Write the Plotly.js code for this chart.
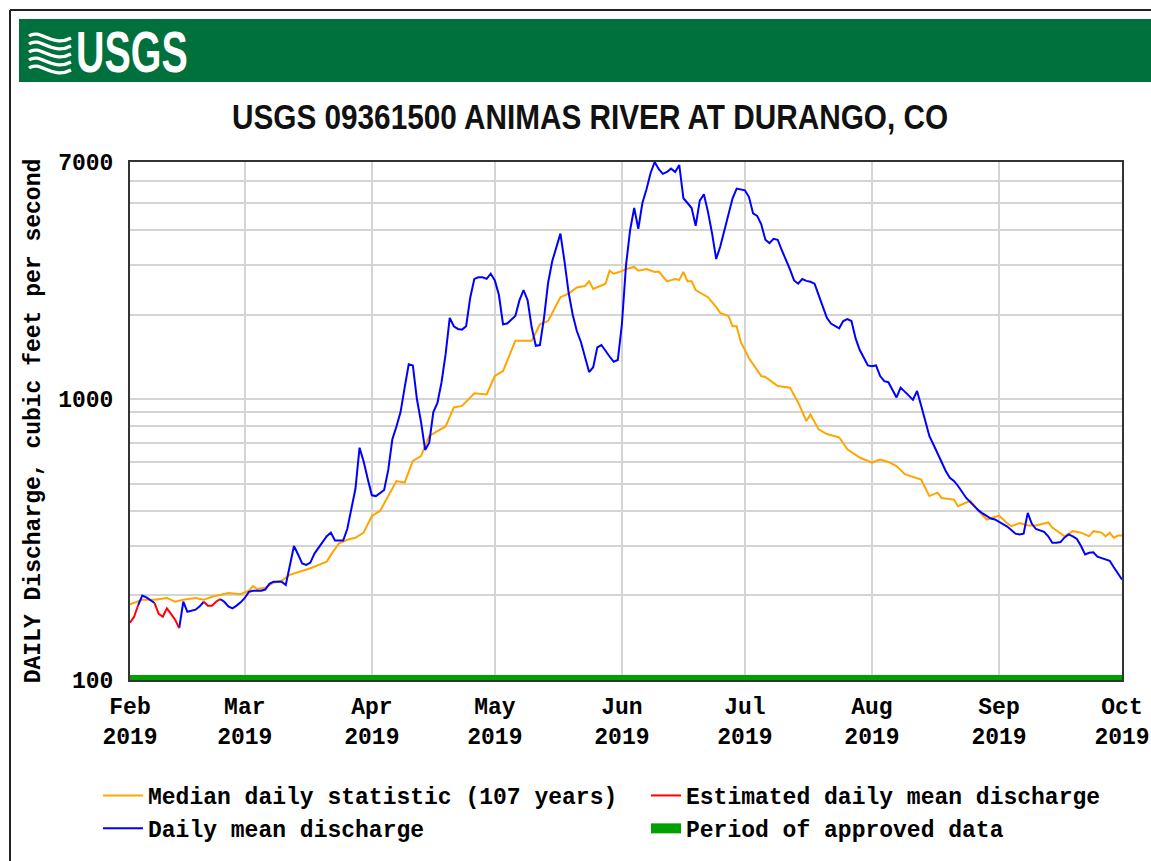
<!DOCTYPE html>
<html><head><meta charset="utf-8">
<script src="https://cdn.plot.ly/plotly-3.0.1.min.js"></script>
<style>html,body{margin:0;padding:0;background:#fff}#chart{width:1151px;height:861px}</style>
</head><body><div id="chart"></div>
<script>
// ---- Daily mean discharge (cfs), one value per day; null = estimated day
const dailyFeb = [null,null,185,200,197,193,188,null,null,null,null,null,153,190,175,176,178,183,190,null,null,null,194,190,183,180,184,189];
const dailyMar = [196,206,208,208,208,210,220,224,224,224,218,255,300,280,260,257,262,282,296,310,325,335,314,314,314,345,410,480,672,600,520];
const dailyApr = [455,452,465,475,560,720,800,900,1100,1333,1320,1000,830,660,700,900,970,1150,1450,1950,1820,1780,1770,1820,2300,2684,2720,2720,2684,2800];
const dailyMay = [2650,2350,1850,1860,1920,1980,2250,2450,2250,1800,1550,1560,1950,2600,3100,3450,3890,3100,2400,2000,1750,1600,1420,1250,1300,1530,1560,1480,1420,1360,1380];
const dailyJun = [1850,3000,4000,4800,4050,5000,5600,6400,7000,6600,6350,6450,6630,6450,6830,5200,5000,4800,4150,5100,5370,4650,3900,3160,3500,4000,4500,5200,5630,5580];
const dailyJul = [5550,5250,4590,4500,4200,3700,3600,3730,3700,3400,3150,2900,2650,2580,2680,2640,2620,2580,2350,2150,1950,1860,1820,1790,1900,1930,1900,1650,1500,1400,1320];
const dailyAug = [1310,1320,1210,1160,1150,1080,1015,1100,1060,1030,995,1070,950,830,740,690,640,600,555,525,512,491,465,445,430,415,402,392,383,376,373];
const dailySep = [366,358,352,342,332,330,332,394,360,345,342,337,325,308,308,310,322,330,325,318,300,280,284,285,275,272,270,266,252,240];
const dailyOct = [228];

// ---- Estimated daily mean discharge (February only)
const estimatedFeb = [160,168,185,null,null,null,188,172,168,180,172,164,153,null,null,null,null,null,190,184,184,190,194,null,null,null,null,null];

// ---- Median daily statistic (107 years)
const medianDates = ['02-01','02-04','02-07','02-10','02-12','02-14','02-17','02-19','02-21','02-25','02-28',
 '03-02','03-03','03-04','03-06','03-08','03-10','03-12','03-17','03-21','03-22','03-24','03-26','03-28','03-30',
 '04-01','04-03','04-05','04-07','04-09','04-11','04-13','04-15','04-17','04-19','04-21','04-23','04-26','04-29',
 '05-01','05-03','05-06','05-10','05-12','05-14','05-17','05-19','05-21','05-23','05-24','05-25','05-28','05-29','05-30',
 '06-01','06-02','06-04','06-05','06-07','06-09','06-10','06-12','06-14','06-15','06-16','06-17','06-18','06-19','06-22','06-24','06-25','06-27','06-28','06-29','06-30',
 '07-02','07-05','07-06','07-09','07-12','07-14','07-16','07-17','07-19','07-21','07-24','07-26','07-29',
 '08-01','08-03','08-05','08-07','08-09','08-13','08-15','08-17','08-18','08-21','08-22','08-25','08-27','08-29',
 '09-01','09-03','09-04','09-06','09-08','09-10','09-13','09-14','09-17','09-19','09-21','09-23','09-24','09-26','09-27','09-28','09-29','09-30','10-01'];
const medianValues = [186,193,193,196,190,193,196,193,198,204,202,
 208,216,211,213,222,226,237,250,264,279,307,316,321,335,
 384,400,452,511,505,603,627,740,770,800,935,947,1050,1040,
 1210,1260,1615,1615,1850,1900,2310,2380,2500,2530,2630,2470,2580,2870,2800,
 2860,2910,2960,2870,2910,2840,2850,2630,2680,2660,2840,2630,2630,2450,2310,2130,2030,1980,1820,1820,1600,
 1400,1210,1200,1115,1100,974,836,883,781,752,732,663,620,
 595,610,598,578,541,518,452,465,445,439,416,435,400,373,
 385,362,353,362,355,355,364,349,325,339,335,325,339,335,325,335,321,327,327];

// ---- Period of approved data
const approvedPeriod = ['2019-02-01','2019-10-01'];
const approvedLevel = [100,100];

// ---- Axis ticks
const monthTicks = ['2019-02-01','2019-03-01','2019-04-01','2019-05-01','2019-06-01','2019-07-01','2019-08-01','2019-09-01','2019-10-01'];
const monthLabels = ['Feb<br>2019','Mar<br>2019','Apr<br>2019','May<br>2019','Jun<br>2019','Jul<br>2019','Aug<br>2019','Sep<br>2019','Oct<br>2019'];
const yTickVals = [100,200,300,400,500,600,700,800,900,1000,2000,3000,4000,5000,6000,7000];
const yTickText = ['100','','','','','','','','','1000','','','','','','7000'];

// ---- build date arrays from the daily month arrays
function pad(n){return (n<10?'0':'')+n;}
const monthBlocks = [['02',dailyFeb],['03',dailyMar],['04',dailyApr],['05',dailyMay],['06',dailyJun],['07',dailyJul],['08',dailyAug],['09',dailySep],['10',dailyOct]];
const dailyDates = [], dailyValues = [];
monthBlocks.forEach(([m, arr]) => arr.forEach((v,i) => { dailyDates.push('2019-'+m+'-'+pad(i+1)); dailyValues.push(v); }));
const estDates = estimatedFeb.map((v,i) => '2019-02-'+pad(i+1));
const medDates = medianDates.map(d => '2019-'+d);

// ---- geometry helpers for decorations (page pixels -> paper)
const W=1151, H=861, ML=130, MR=29, MT=162, MB=181;
const PW=W-ML-MR, PH=H-MT-MB;
const px = x => (x-ML)/PW;
const py = y => (H-MB-y)/PH;

const monoFont = {family:'Liberation Mono, DejaVu Sans Mono, monospace', size:23, color:'#000', weight:'bold'};

const traces = [
  {x: approvedPeriod, y: approvedLevel, type:'scatter', mode:'lines', name:'Period of approved data',
   line:{color:'#00A000', width:10}, legend:'legend2', legendrank:2, hoverinfo:'skip'},
  {x: medDates, y: medianValues, type:'scatter', mode:'lines', name:'Median daily statistic (107 years)',
   line:{color:'#FFA500', width:2}, legend:'legend', legendrank:1},
  {x: dailyDates, y: dailyValues, type:'scatter', mode:'lines', name:'Daily mean discharge',
   line:{color:'#0000FF', width:2}, connectgaps:false, legend:'legend', legendrank:2},
  {x: estDates, y: estimatedFeb, type:'scatter', mode:'lines', name:'Estimated daily mean discharge',
   line:{color:'#FF0000', width:2}, connectgaps:false, legend:'legend2', legendrank:1}
];

// decorations: banner, logo waves, outer frame
const shapes = [
  {type:'line', xref:'paper', yref:'paper', x0:px(10), x1:px(1151), y0:py(10), y1:py(10), line:{color:'#222', width:2}},
  {type:'line', xref:'paper', yref:'paper', x0:px(10), x1:px(10), y0:py(10), y1:py(861), line:{color:'#222', width:2}},
  {type:'rect', xref:'paper', yref:'paper', x0:px(19), x1:px(1151), y0:py(82), y1:py(19), fillcolor:'#00703C', line:{width:0}}
];
for (let i=0;i<5;i++){
  const o = 8*i;
  const p = [[29,36+o],[40,28+o],[52,48+o],[71,38+o]];
  const path = 'M '+px(p[0][0])+' '+py(p[0][1])+' C '+px(p[1][0])+' '+py(p[1][1])+', '+px(p[2][0])+' '+py(p[2][1])+', '+px(p[3][0])+' '+py(p[3][1]);
  shapes.push({type:'path', xref:'paper', yref:'paper', path:path, line:{color:'#fff', width:3.2}});
}

const legendBase = {orientation:'v', yanchor:'top', y:py(774), xanchor:'left', font:monoFont,
  bgcolor:'rgba(0,0,0,0)', borderwidth:0, traceorder:'normal', tracegroupgap:0};

const layout = {
  width:W, height:H,
  margin:{l:ML, r:MR, t:MT, b:MB, pad:0, autoexpand:false},
  paper_bgcolor:'#fff', plot_bgcolor:'#fff',
  showlegend:true,
  title:{text:'USGS 09361500 ANIMAS RIVER AT DURANGO, CO', xref:'container', yref:'container',
    x:590/W, xanchor:'center', y:1-117/H, yanchor:'middle',
    font:{family:'Liberation Sans, Arial, sans-serif', size:35, weight:'bold', color:'#111'}},
  xaxis:{type:'date', range:['2019-02-01','2019-10-01'], tickmode:'array', tickvals:monthTicks, ticktext:monthLabels,
    showgrid:true, gridcolor:'#d4d4d4', gridwidth:2, showline:true, mirror:true, linecolor:'#333', linewidth:2,
    ticks:'', ticklabelstandoff:4, tickfont:monoFont, zeroline:false, fixedrange:true},
  yaxis:{type:'log', range:[2, Math.log10(7000)], tickmode:'array', tickvals:yTickVals, ticktext:yTickText,
    showgrid:true, gridcolor:'#d4d4d4', gridwidth:2, showline:true, mirror:true, linecolor:'#333', linewidth:2,
    ticks:'', ticklabelstandoff:10, tickfont:monoFont, zeroline:false, fixedrange:true,
    title:{text:'DAILY Discharge, cubic feet per second', font:monoFont, standoff:11}},
  legend:Object.assign({}, legendBase, {x:px(98), itemwidth:40}),
  legend2:Object.assign({}, legendBase, {x:px(646), itemwidth:30}),
  shapes:shapes,
  annotations:[
    {text:'USGS', xref:'paper', yref:'paper', x:px(74), y:py(51), xanchor:'left', yanchor:'middle', showarrow:false,
     font:{family:'Liberation Sans, Arial, sans-serif', size:58, weight:'bold', color:'#fff'}}
  ]
};

Plotly.newPlot('chart', traces, layout, {displayModeBar:false, staticPlot:true}).then(gd => {
  // condensed look of the original title and logo lettering
  const t = gd.querySelector('.gtitle');
  if (t) { t.style.transformBox='fill-box'; t.style.transformOrigin='center'; t.style.transform='scaleX(0.85)'; }
  const a = gd.querySelector('.annotation-text');
  if (a) { a.style.transformBox='fill-box'; a.style.transformOrigin='left center'; a.style.transform='scaleX(0.68)'; }
});
</script>
</body></html>
